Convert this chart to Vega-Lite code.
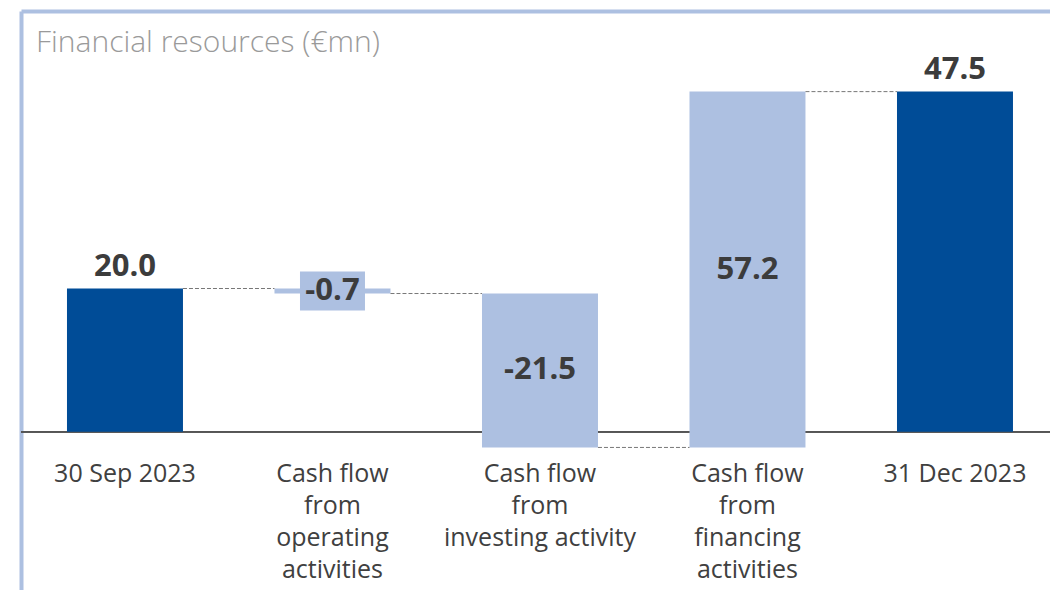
{
  "$schema": "https://vega.github.io/schema/vega-lite/v6.json",
  "width": 1029,
  "height": 579,
  "autosize": "none",
  "padding": {"left": 21, "top": 11, "right": 0, "bottom": 0},
  "background": "white",
  "config": {
    "view": {"stroke": null},
    "font": "Open Sans",
    "axisY": {"domain": true, "domainColor": "#adc0e1", "domainWidth": 4, "labels": false, "ticks": false, "grid": false}
  },
  "title": {
    "text": "Financial resources (€mn)",
    "anchor": "start",
    "frame": "group",
    "offset": 0,
    "baseline": "alphabetic",
    "dx": 15,
    "dy": 71,
    "fontSize": 30,
    "fontWeight": 300,
    "color": "#9a9a9a",
    "font": "Open Sans"
  },
  "data": {
    "values": [
      {"cat": "30 Sep 2023", "next": "Cash flow|from|operating|activities", "start": 0, "end": 20.0, "kind": "total", "label": "20.0"},
      {"cat": "Cash flow|from|operating|activities", "next": "Cash flow|from|investing activity", "start": 20.0, "end": 19.3, "kind": "delta", "label": "-0.7"},
      {"cat": "Cash flow|from|investing activity", "next": "Cash flow|from|financing|activities", "start": 19.3, "end": -2.2, "kind": "delta", "label": "-21.5"},
      {"cat": "Cash flow|from|financing|activities", "next": "31 Dec 2023", "start": -2.2, "end": 47.5, "kind": "delta", "label": "57.2"},
      {"cat": "31 Dec 2023", "next": null, "start": 0, "end": 47.5, "kind": "total", "label": "47.5"}
    ]
  },
  "resolve": {"axis": {"x": "independent"}},
  "layer": [
    {
      "mark": {"type": "rule", "color": "#555555", "strokeWidth": 1.5},
      "encoding": {"y": {"datum": 0, "type": "quantitative", "title": null}}
    },
    {
      "mark": {"type": "bar"},
      "encoding": {
        "x": {
          "field": "cat",
          "type": "nominal",
          "sort": null,
          "scale": {"type": "band", "domain": ["30 Sep 2023", "Cash flow|from|operating|activities", "Cash flow|from|investing activity", "Cash flow|from|financing|activities", "31 Dec 2023"], "paddingInner": 0.441, "paddingOuter": 0.2, "align": 0.554},
          "axis": {
            "orient": "bottom",
            "title": null,
            "domain": false,
            "ticks": false,
            "tickSize": 0,
            "labelAngle": 0,
            "labelPadding": -109,
            "labelBaseline": "alphabetic",
            "labelFontSize": 25,
            "labelLineHeight": 32,
            "labelColor": "#404040",
            "labelFont": "Open Sans",
            "labelLimit": 400,
            "labelOverlap": false,
            "labelBound": false,
            "labelExpr": "split(datum.label, '|')"
          }
        },
        "y": {"field": "start", "type": "quantitative", "title": null, "scale": {"domain": [-22.11, 58.76], "nice": false, "zero": false}},
        "y2": {"field": "end"},
        "color": {
          "field": "kind",
          "type": "nominal",
          "scale": {"domain": ["total", "delta"], "range": ["#004c97", "#adc0e1"]},
          "legend": null
        }
      }
    },
    {
      "transform": [
        {"filter": "datum.label == '-0.7'"},
        {"fold": ["start", "end"], "as": ["k", "v"]},
        {"aggregate": [{"op": "mean", "field": "v", "as": "mid"}], "groupby": ["cat", "label"]}
      ],
      "mark": {"type": "tick", "orient": "horizontal", "size": 65, "thickness": 39, "color": "#adc0e1", "opacity": 1},
      "encoding": {
        "x": {"field": "cat", "type": "nominal", "sort": null, "axis": null},
        "y": {"field": "mid", "type": "quantitative", "title": null}
      }
    },
    {
      "transform": [{"filter": "datum.next != null"}],
      "mark": {"type": "rule", "color": "#777777", "strokeWidth": 1, "strokeDash": [4, 2]},
      "encoding": {
        "x": {
          "field": "cat",
          "type": "nominal",
          "sort": null,
          "bandPosition": 1,
          "axis": {"orient": "top", "title": null, "labels": false, "ticks": false, "domain": true, "domainColor": "#adc0e1", "domainWidth": 4, "grid": false}
        },
        "x2": {"field": "next", "bandPosition": 0},
        "y": {"field": "end", "type": "quantitative", "title": null}
      }
    },
    {
      "transform": [{"filter": "datum.kind == 'total'"}],
      "mark": {"type": "text", "baseline": "alphabetic", "dy": -13, "fontSize": 31, "fontWeight": "bold", "color": "#3c3c3c", "font": "Open Sans"},
      "encoding": {
        "x": {"field": "cat", "type": "nominal", "sort": null, "axis": null},
        "y": {"field": "end", "type": "quantitative", "title": null},
        "text": {"field": "label"}
      }
    },
    {
      "transform": [
        {"filter": "datum.kind == 'delta'"},
        {"fold": ["start", "end"], "as": ["k", "v"]},
        {"aggregate": [{"op": "mean", "field": "v", "as": "mid"}], "groupby": ["cat", "label"]}
      ],
      "mark": {"type": "text", "baseline": "middle", "fontSize": 31, "fontWeight": "bold", "color": "#3c3c3c", "font": "Open Sans"},
      "encoding": {
        "x": {"field": "cat", "type": "nominal", "sort": null, "axis": null},
        "y": {"field": "mid", "type": "quantitative", "title": null},
        "text": {"field": "label"}
      }
    }
  ]
}
